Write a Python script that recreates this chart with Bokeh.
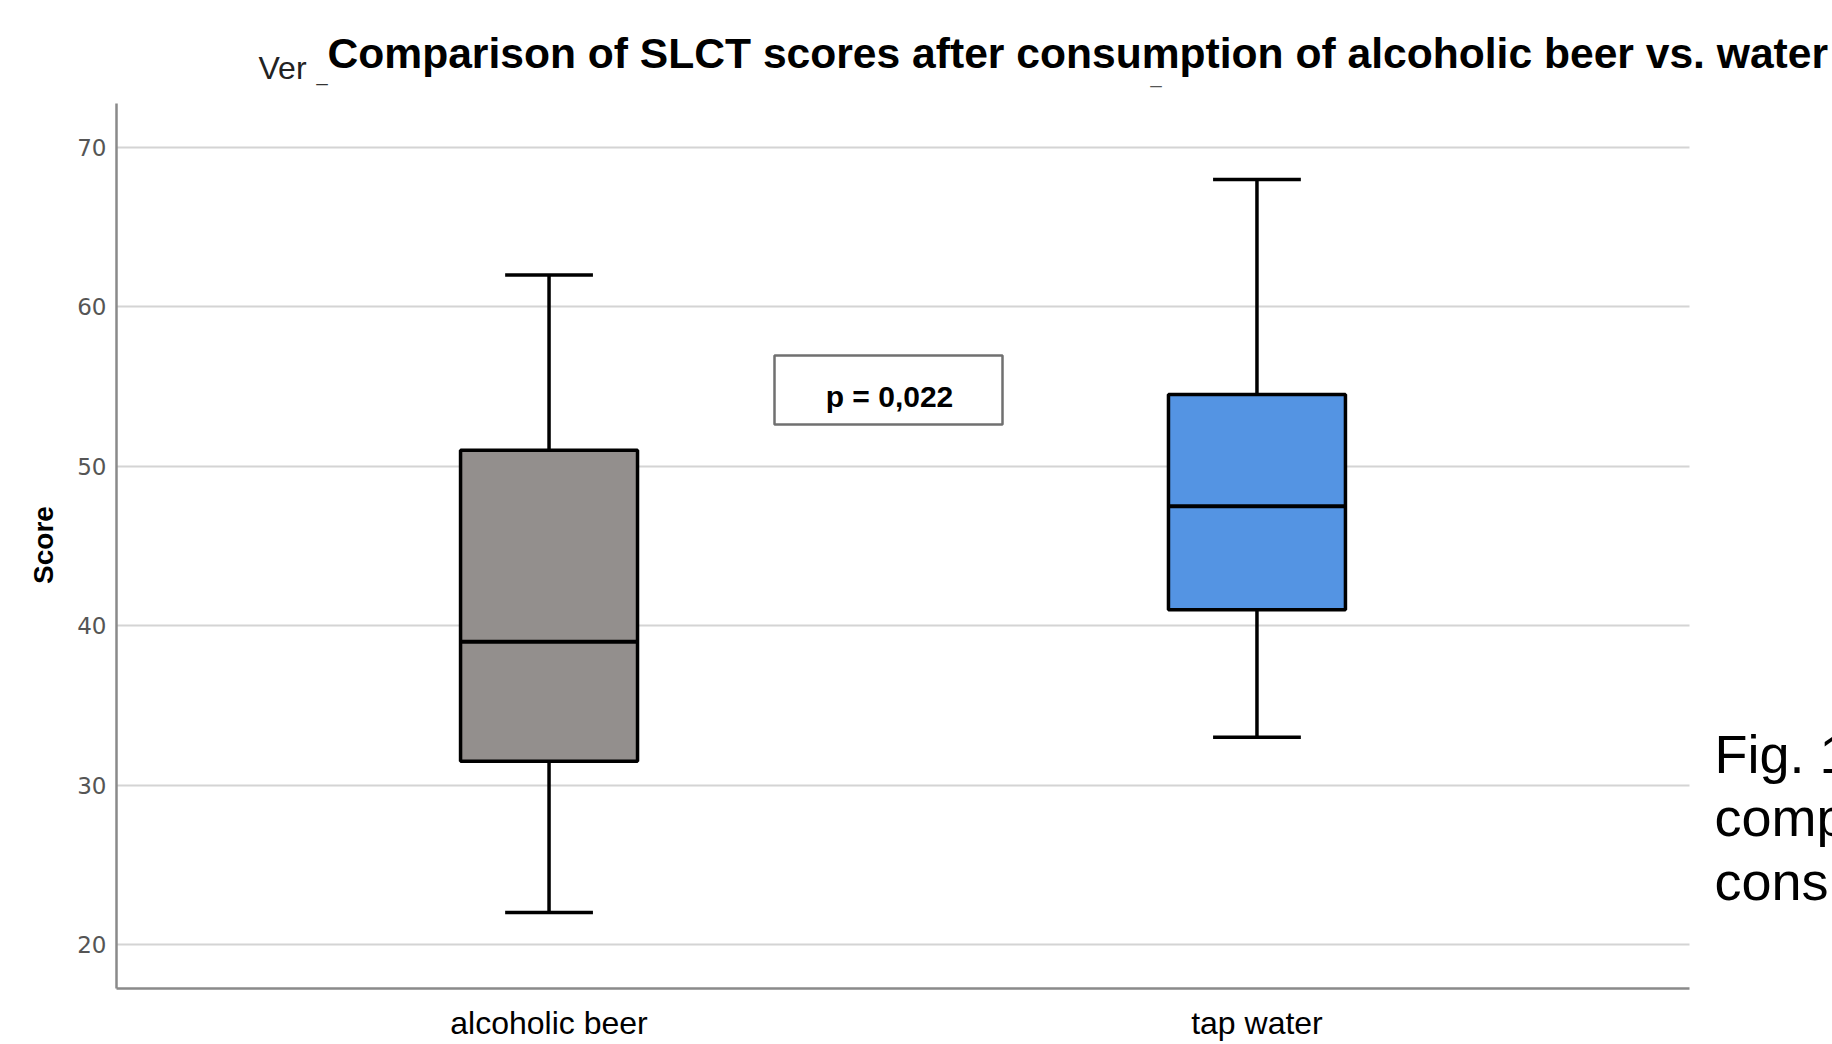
import numpy as np
from bokeh.plotting import figure
from bokeh.models import Range1d, ColumnDataSource, Label, BoxAnnotation, FixedTicker
from bokeh.embed import file_html
from bokeh.resources import INLINE

# ---------------- data ----------------
categories = ["alcoholic beer", "tap water"]
whisker_low = [22, 33]
q1 = [31.5, 41]
median = [39, 47.5]
q3 = [51, 54.5]
whisker_high = [62, 68]
box_colors = ["#938f8d", "#5494e3"]
y_ticks = [20, 30, 40, 50, 60, 70]
p_value_text = "p = 0,022"
title_text = "Comparison of SLCT scores after consumption of alcoholic beer vs. water"
y_label = "Score"
fig_caption = ["Fig. 1", "comp", "consu"]

# ---------------- layout helpers (page px -> data) ----------------
W, H = 1832, 1044
AX0, AX1 = -0.111, 2.111
AY0, AY1 = 17.24, 72.76
PL, PR, PT, PB = 116, 1689, 103, 988          # extent of the drawn axes
ux = (PR - PL) / (AX1 - AX0)
uy = (PB - PT) / (AY1 - AY0)
FL, FR, FT, FB = 116, W, 0, 988               # frame reaches canvas top/right
X0, X1 = AX0, AX0 + (FR - FL) / ux
Y0, Y1 = AY0, AY0 + (FB - FT) / uy


def dx(px):
    return AX0 + (px - PL) / ux


def dy(py):
    return AY0 + (PB - py) / uy


def base(py, fs):
    # y for a 'middle' anchored text whose baseline should sit at page px py
    return dy(py - 0.3465 * fs)


xs = np.arange(len(categories)) + 0.5
box_w = 0.25
cap_half = 0.062
LW = 3.5

p = figure(width=W, height=H,
           x_range=Range1d(X0, X1), y_range=Range1d(Y0, Y1),
           output_backend="svg", toolbar_location=None,
           min_border_left=FL, min_border_right=0,
           min_border_top=0, min_border_bottom=H - FB)
p.outline_line_color = None
p.background_fill_color = "white"
p.border_fill_color = "white"

# axes
for ax in (p.xaxis, p.yaxis):
    ax.axis_line_color = "#8a8a8a"
    ax.axis_line_width = 2.5
    ax.major_tick_line_color = None
    ax.minor_tick_line_color = None
    ax.major_tick_out = 0
    ax.major_tick_in = 0
    ax.minor_tick_out = 0
    ax.minor_tick_in = 0
p.xaxis.bounds = (AX0, AX1)
p.yaxis.bounds = (AY0, AY1)
p.xaxis.ticker = FixedTicker(ticks=[float(v) for v in xs])
overrides = {}
for v, c in zip(xs, categories):
    overrides[float(v)] = c
    overrides[str(float(v))] = c
p.xaxis.major_label_overrides = overrides
p.xaxis.major_label_text_font = "Liberation Sans"
p.xaxis.major_label_text_font_size = "32px"
p.xaxis.major_label_text_color = "black"
p.xaxis.major_label_standoff = 16

p.yaxis.ticker = FixedTicker(ticks=y_ticks)
p.yaxis.major_label_text_font = "DejaVu Sans"
p.yaxis.major_label_text_font_size = "23px"
p.yaxis.major_label_text_color = "#555555"
p.yaxis.major_label_standoff = 10
# label is centred on the full frame height; trailing no-break spaces move it to the axis centre
p.yaxis.axis_label = y_label + "\u00a0" * 13
p.yaxis.axis_label_text_font = "Liberation Sans"
p.yaxis.axis_label_text_font_style = "bold"
p.yaxis.axis_label_text_font_size = "28px"
p.yaxis.axis_label_text_color = "black"
p.yaxis.axis_label_standoff = 15

p.xgrid.visible = False
p.ygrid.grid_line_color = "#d4d4d4"
p.ygrid.grid_line_width = 2
p.ygrid.ticker = FixedTicker(ticks=y_ticks)
try:
    p.ygrid.cross_bounds = (AX0, AX1)
except Exception:
    p.ygrid.visible = False
    p.segment(x0=[AX0] * len(y_ticks), y0=y_ticks, x1=[AX1] * len(y_ticks), y1=y_ticks,
              line_color="#d4d4d4", line_width=2, level="underlay")

src = ColumnDataSource(dict(x=xs, lo=whisker_low, q1=q1, med=median, q3=q3, hi=whisker_high,
                            color=box_colors, cat=categories,
                            cl=xs - cap_half, cr=xs + cap_half,
                            bl=xs - box_w / 2, br=xs + box_w / 2))

# whiskers
p.segment(x0="x", y0="q3", x1="x", y1="hi", source=src, line_color="black", line_width=LW)
p.segment(x0="x", y0="q1", x1="x", y1="lo", source=src, line_color="black", line_width=LW)
p.segment(x0="cl", y0="hi", x1="cr", y1="hi", source=src, line_color="black", line_width=LW)
p.segment(x0="cl", y0="lo", x1="cr", y1="lo", source=src, line_color="black", line_width=LW)
# boxes
p.vbar(x="x", width=box_w, bottom="q1", top="q3", source=src, fill_color="color",
       line_color="black", line_width=LW)
# medians
p.segment(x0="bl", y0="med", x1="br", y1="med", source=src, line_color="black", line_width=4)

# p-value box
p.add_layout(BoxAnnotation(left=dx(774), right=dx(1002), top=dy(355), bottom=dy(424),
                           fill_color="white", fill_alpha=1.0,
                           line_color="#707070", line_alpha=1.0, line_width=2.5))
p.add_layout(Label(x=dx(889), y=dy(396), text=p_value_text, text_font="Liberation Sans",
                   text_font_style="bold", text_font_size="30px",
                   text_align="center", text_baseline="middle", text_color="black"))

# title and remnants of a covered subtitle
p.add_layout(Label(x=dx(258), y=base(79, 32), text="Ver", text_font="Liberation Sans",
                   text_font_size="32px", text_color="#222222", text_baseline="middle"))
p.add_layout(Label(x=dx(316), y=base(80, 20), text="_", text_font="Liberation Sans",
                   text_font_size="20px", text_color="#333333", text_baseline="middle"))
p.add_layout(Label(x=dx(1150), y=base(82, 20), text="_", text_font="Liberation Sans",
                   text_font_size="20px", text_color="#555555", text_baseline="middle"))
p.add_layout(Label(x=dx(327), y=base(67, 42.6), text=title_text, text_font="Liberation Sans",
                   text_font_style="bold", text_font_size="42.6px", text_color="black",
                   text_baseline="middle", text_align="left"))

# figure caption at right (cut by page edge)
for i, line in enumerate(fig_caption):
    p.add_layout(Label(x=dx(1714), y=base(772 + 63.5 * i, 54), text=line,
                       text_font="Liberation Sans", text_font_size="54px",
                       text_color="black", text_baseline="middle"))

open("out.html", "w").write(file_html(p, INLINE))
